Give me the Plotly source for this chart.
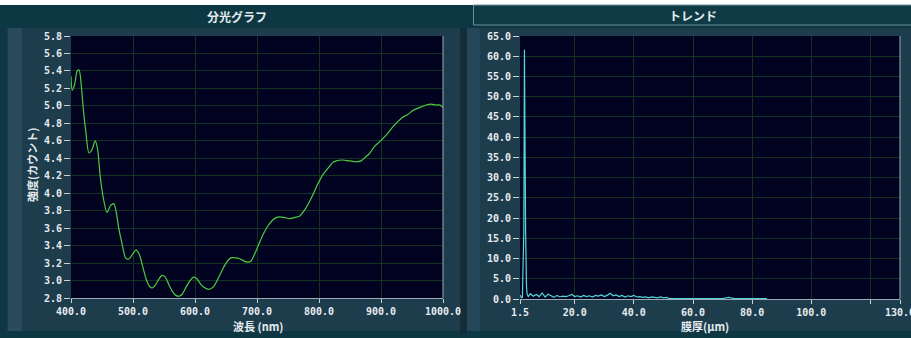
import plotly.graph_objects as go
from plotly.subplots import make_subplots

# ---- spectrum (left panel) ----
wavelength_nm = [400, 402, 406, 410, 413, 417, 420, 424, 429, 434, 439, 443, 447, 452, 458,
                 464, 469, 473, 477, 483, 488, 493, 500, 505, 510, 516, 522, 527, 531, 537,
                 542, 547, 552, 558, 564, 569, 574, 579, 586, 592, 598, 603, 609, 615, 623,
                 630, 637, 644, 651, 658, 665, 672, 680, 685, 690, 696, 702, 710, 718, 725,
                 731, 737, 745, 753, 760, 769, 778, 788, 797, 806, 815, 822, 828, 838, 849,
                 860, 868, 876, 882, 890, 898, 909, 918, 927, 935, 943, 952, 962, 973, 980,
                 989, 995, 1000]
intensity = [5.34, 5.18, 5.25, 5.40, 5.41, 5.20, 4.95, 4.70, 4.46, 4.50, 4.60, 4.50, 4.20, 3.95, 3.78,
             3.86, 3.88, 3.78, 3.60, 3.40, 3.26, 3.245, 3.31, 3.35, 3.30, 3.15, 3.00, 2.93, 2.915, 2.96,
             3.02, 3.06, 3.04, 2.95, 2.87, 2.83, 2.82, 2.84, 2.93, 3.00, 3.04, 3.02, 2.96, 2.92, 2.90,
             2.93, 3.02, 3.12, 3.21, 3.26, 3.26, 3.25, 3.22, 3.21, 3.22, 3.30, 3.40, 3.53, 3.63, 3.69,
             3.72, 3.73, 3.72, 3.71, 3.72, 3.74, 3.82, 3.95, 4.09, 4.21, 4.29, 4.35, 4.37, 4.38, 4.37,
             4.36, 4.37, 4.42, 4.46, 4.54, 4.59, 4.67, 4.75, 4.82, 4.87, 4.90, 4.95, 4.98, 5.01, 5.02,
             5.01, 5.01, 4.98]

spec_xticks = [400, 500, 600, 700, 800, 900, 1000]
spec_xlabels = ["400.0", "500.0", "600.0", "700.0", "800.0", "900.0", "1000.0"]
spec_yticks = [2.8, 3.0, 3.2, 3.4, 3.6, 3.8, 4.0, 4.2, 4.4, 4.6, 4.8, 5.0, 5.2, 5.4, 5.6, 5.8]
spec_ylabels = ["2.8", "3.0", "3.2", "3.4", "3.6", "3.8", "4.0", "4.2", "4.4", "4.6", "4.8",
                "5.0", "5.2", "5.4", "5.6", "5.8"]

# ---- thickness trend (right panel) ----
thickness_um = [1.5, 2.0, 2.3, 2.4, 2.8, 3.0, 3.1, 3.3, 3.4, 3.7, 3.9, 4.3,
                5, 6, 7, 8, 9, 10, 11, 12, 13, 14, 15, 16, 17, 18, 19, 20, 21, 22, 23, 24,
                25, 26, 27, 28, 29, 30, 31, 32, 33, 34, 35, 36, 37, 38, 39, 40, 41, 42, 43,
                44, 45, 46, 47, 48, 49, 50, 51, 52, 55, 60, 65, 70, 72, 74, 78, 82, 85]
trend = [1.0, 0.3, 0.4, 5.2, 16.6, 61.6, 45.0, 42.5, 16.6, 3.0, 1.2, 0.6,
         1.3, 0.7, 1.1, 0.6, 1.5, 0.5, 1.2, 0.8, 0.4, 0.9, 0.5, 0.7, 0.6, 0.8, 1.1, 0.6, 0.8, 0.5, 0.9, 0.6,
         0.8, 0.5, 0.9, 0.7, 1.0, 0.6, 0.9, 1.4, 0.8, 1.0, 0.6, 0.9, 0.5, 0.8, 0.6, 0.9, 0.5, 0.6, 0.4,
         0.5, 0.3, 0.5, 0.4, 0.3, 0.5, 0.3, 0.4, 0.1, 0.1, 0.1, 0.1, 0.1, 0.4, 0.1, 0.1, 0.1, 0.1]

trend_xticks = [1.5, 20, 40, 60, 80, 100, 120, 130]
trend_xlabels = ["1.5", "20.0", "40.0", "60.0", "80.0", "100.0", "", "130.0"]
trend_yticks = [0, 5, 10, 15, 20, 25, 30, 35, 40, 45, 50, 55, 60, 65]
trend_ylabels = ["0.0", "5.0", "10.0", "15.0", "20.0", "25.0", "30.0", "35.0", "40.0",
                 "45.0", "50.0", "55.0", "60.0", "65.0"]

W, H = 911, 338


def px(x):
    return x / W


def py(y):
    return 1 - y / H


TICK_FONT = dict(family="DejaVu Sans Mono, Liberation Mono, monospace", size=10,
                 color="#e6ecef", weight="bold")
JP_FONT = "Noto Sans CJK JP, sans-serif"
GRID = "#16311f"
PLOT_BG = "#020320"
AXIS_LINE = "#9aa9b8"

fig = make_subplots(rows=1, cols=2)

fig.add_trace(go.Scatter(x=wavelength_nm, y=intensity, mode="lines",
                         line=dict(color="#4ccc40", width=1.2, shape="spline", smoothing=0.8),
                         showlegend=False, hoverinfo="skip"), row=1, col=1)
fig.add_trace(go.Scatter(x=thickness_um, y=trend, mode="lines",
                         line=dict(color="#55d6d8", width=1.2),
                         showlegend=False, hoverinfo="skip"), row=1, col=2)

common_x = dict(showgrid=True, gridcolor=GRID, gridwidth=1, zeroline=False,
                showline=True, linecolor=AXIS_LINE, linewidth=1,
                ticks="outside", ticklen=4, tickcolor="#c8d2da", tickwidth=1,
                tickfont=TICK_FONT, tickangle=0, fixedrange=True, automargin=False,
                ticklabeloverflow="allow")
common_y = dict(showgrid=True, gridcolor=GRID, gridwidth=1, zeroline=False,
                showline=False, ticks="outside", ticklen=6, tickcolor="#c8d2da", tickwidth=1,
                tickfont=TICK_FONT, fixedrange=True, automargin=False)

fig.update_xaxes(domain=[px(71), px(443)], range=[400, 1000], tickvals=spec_xticks,
                 ticktext=spec_xlabels, **common_x, row=1, col=1)
fig.update_yaxes(domain=[py(298), py(36)], range=[2.8, 5.8], tickvals=spec_yticks,
                 ticktext=spec_ylabels, **common_y, row=1, col=1)
fig.update_xaxes(domain=[px(520), px(900)], range=[1.5, 130], tickvals=trend_xticks,
                 ticktext=trend_xlabels, **common_x, row=1, col=2)
fig.update_yaxes(domain=[py(299), py(36)], range=[0, 65], tickvals=trend_yticks,
                 ticktext=trend_ylabels, **common_y, row=1, col=2)

shapes = [
    # white strip across the top
    dict(type="rect", xref="paper", yref="paper", x0=0, x1=1, y0=py(5), y1=1,
         fillcolor="#ffffff", line_width=0, layer="below"),
    # left panel body
    dict(type="rect", xref="paper", yref="paper", x0=px(7), x1=px(462), y0=py(331), y1=py(28),
         fillcolor="#1d3c4c", line_width=0, layer="below"),
    dict(type="rect", xref="paper", yref="paper", x0=px(8), x1=px(22), y0=py(331), y1=py(28),
         fillcolor="#2a4b5b", line_width=0, layer="below"),
    # separator between panels
    dict(type="rect", xref="paper", yref="paper", x0=px(460), x1=px(467), y0=py(333), y1=py(28),
         fillcolor="#132d39", line_width=0, layer="below"),
    # right panel body
    dict(type="rect", xref="paper", yref="paper", x0=px(467), x1=1, y0=py(331), y1=py(28),
         fillcolor="#1d3c4c", line_width=0, layer="below"),
    dict(type="rect", xref="paper", yref="paper", x0=px(467), x1=px(480), y0=py(331), y1=py(28),
         fillcolor="#25475a", line_width=0, layer="below"),
    # right title box
    dict(type="rect", xref="paper", yref="paper", x0=px(473.5), x1=px(912), y0=py(25), y1=py(5),
         fillcolor="#0e3a46", line=dict(color="#6a8e9c", width=1), layer="below"),
    # plot area backgrounds
    dict(type="rect", xref="paper", yref="paper", x0=px(71), x1=px(443), y0=py(298), y1=py(36),
         fillcolor=PLOT_BG, line_width=0, layer="below"),
    dict(type="rect", xref="paper", yref="paper", x0=px(520), x1=px(900), y0=py(299), y1=py(36),
         fillcolor=PLOT_BG, line_width=0, layer="below"),
    # right-hand frame lines of the plot areas
    dict(type="line", xref="paper", yref="paper", x0=px(443), x1=px(443), y0=py(298), y1=py(36),
         line=dict(color=AXIS_LINE, width=1)),
    dict(type="line", xref="paper", yref="paper", x0=px(900), x1=px(900), y0=py(299), y1=py(36),
         line=dict(color=AXIS_LINE, width=1)),
]

annotations = [
    dict(text="<b>分光グラフ</b>", x=px(237), y=py(16), xref="paper", yref="paper",
         showarrow=False, font=dict(family=JP_FONT, size=12, color="#e6ecef"),
         xanchor="center", yanchor="middle"),
    dict(text="<b>トレンド</b>", x=px(693), y=py(15), xref="paper", yref="paper",
         showarrow=False, font=dict(family=JP_FONT, size=12, color="#e6ecef"),
         xanchor="center", yanchor="middle"),
    dict(text="<b>強度(カウント)</b>", x=px(32), y=py(165), xref="paper", yref="paper",
         showarrow=False, textangle=-90, font=dict(family=JP_FONT, size=11, color="#e6ecef"),
         xanchor="center", yanchor="middle"),
    dict(text="<b>波長 (nm)</b>", x=px(258), y=py(326), xref="paper", yref="paper",
         showarrow=False, font=dict(family=JP_FONT, size=11, color="#e6ecef"),
         xanchor="center", yanchor="middle"),
    dict(text="<b>膜厚(μm)</b>", x=px(705), y=py(326), xref="paper", yref="paper",
         showarrow=False, font=dict(family=JP_FONT, size=11, color="#e6ecef"),
         xanchor="center", yanchor="middle"),
]

fig.update_layout(
    width=W, height=H, margin=dict(l=0, r=0, t=0, b=0),
    paper_bgcolor="#0d3843", plot_bgcolor="rgba(0,0,0,0)",
    shapes=shapes, annotations=annotations, showlegend=False,
)

fig.write_html("out.html", config=dict(displayModeBar=False))
